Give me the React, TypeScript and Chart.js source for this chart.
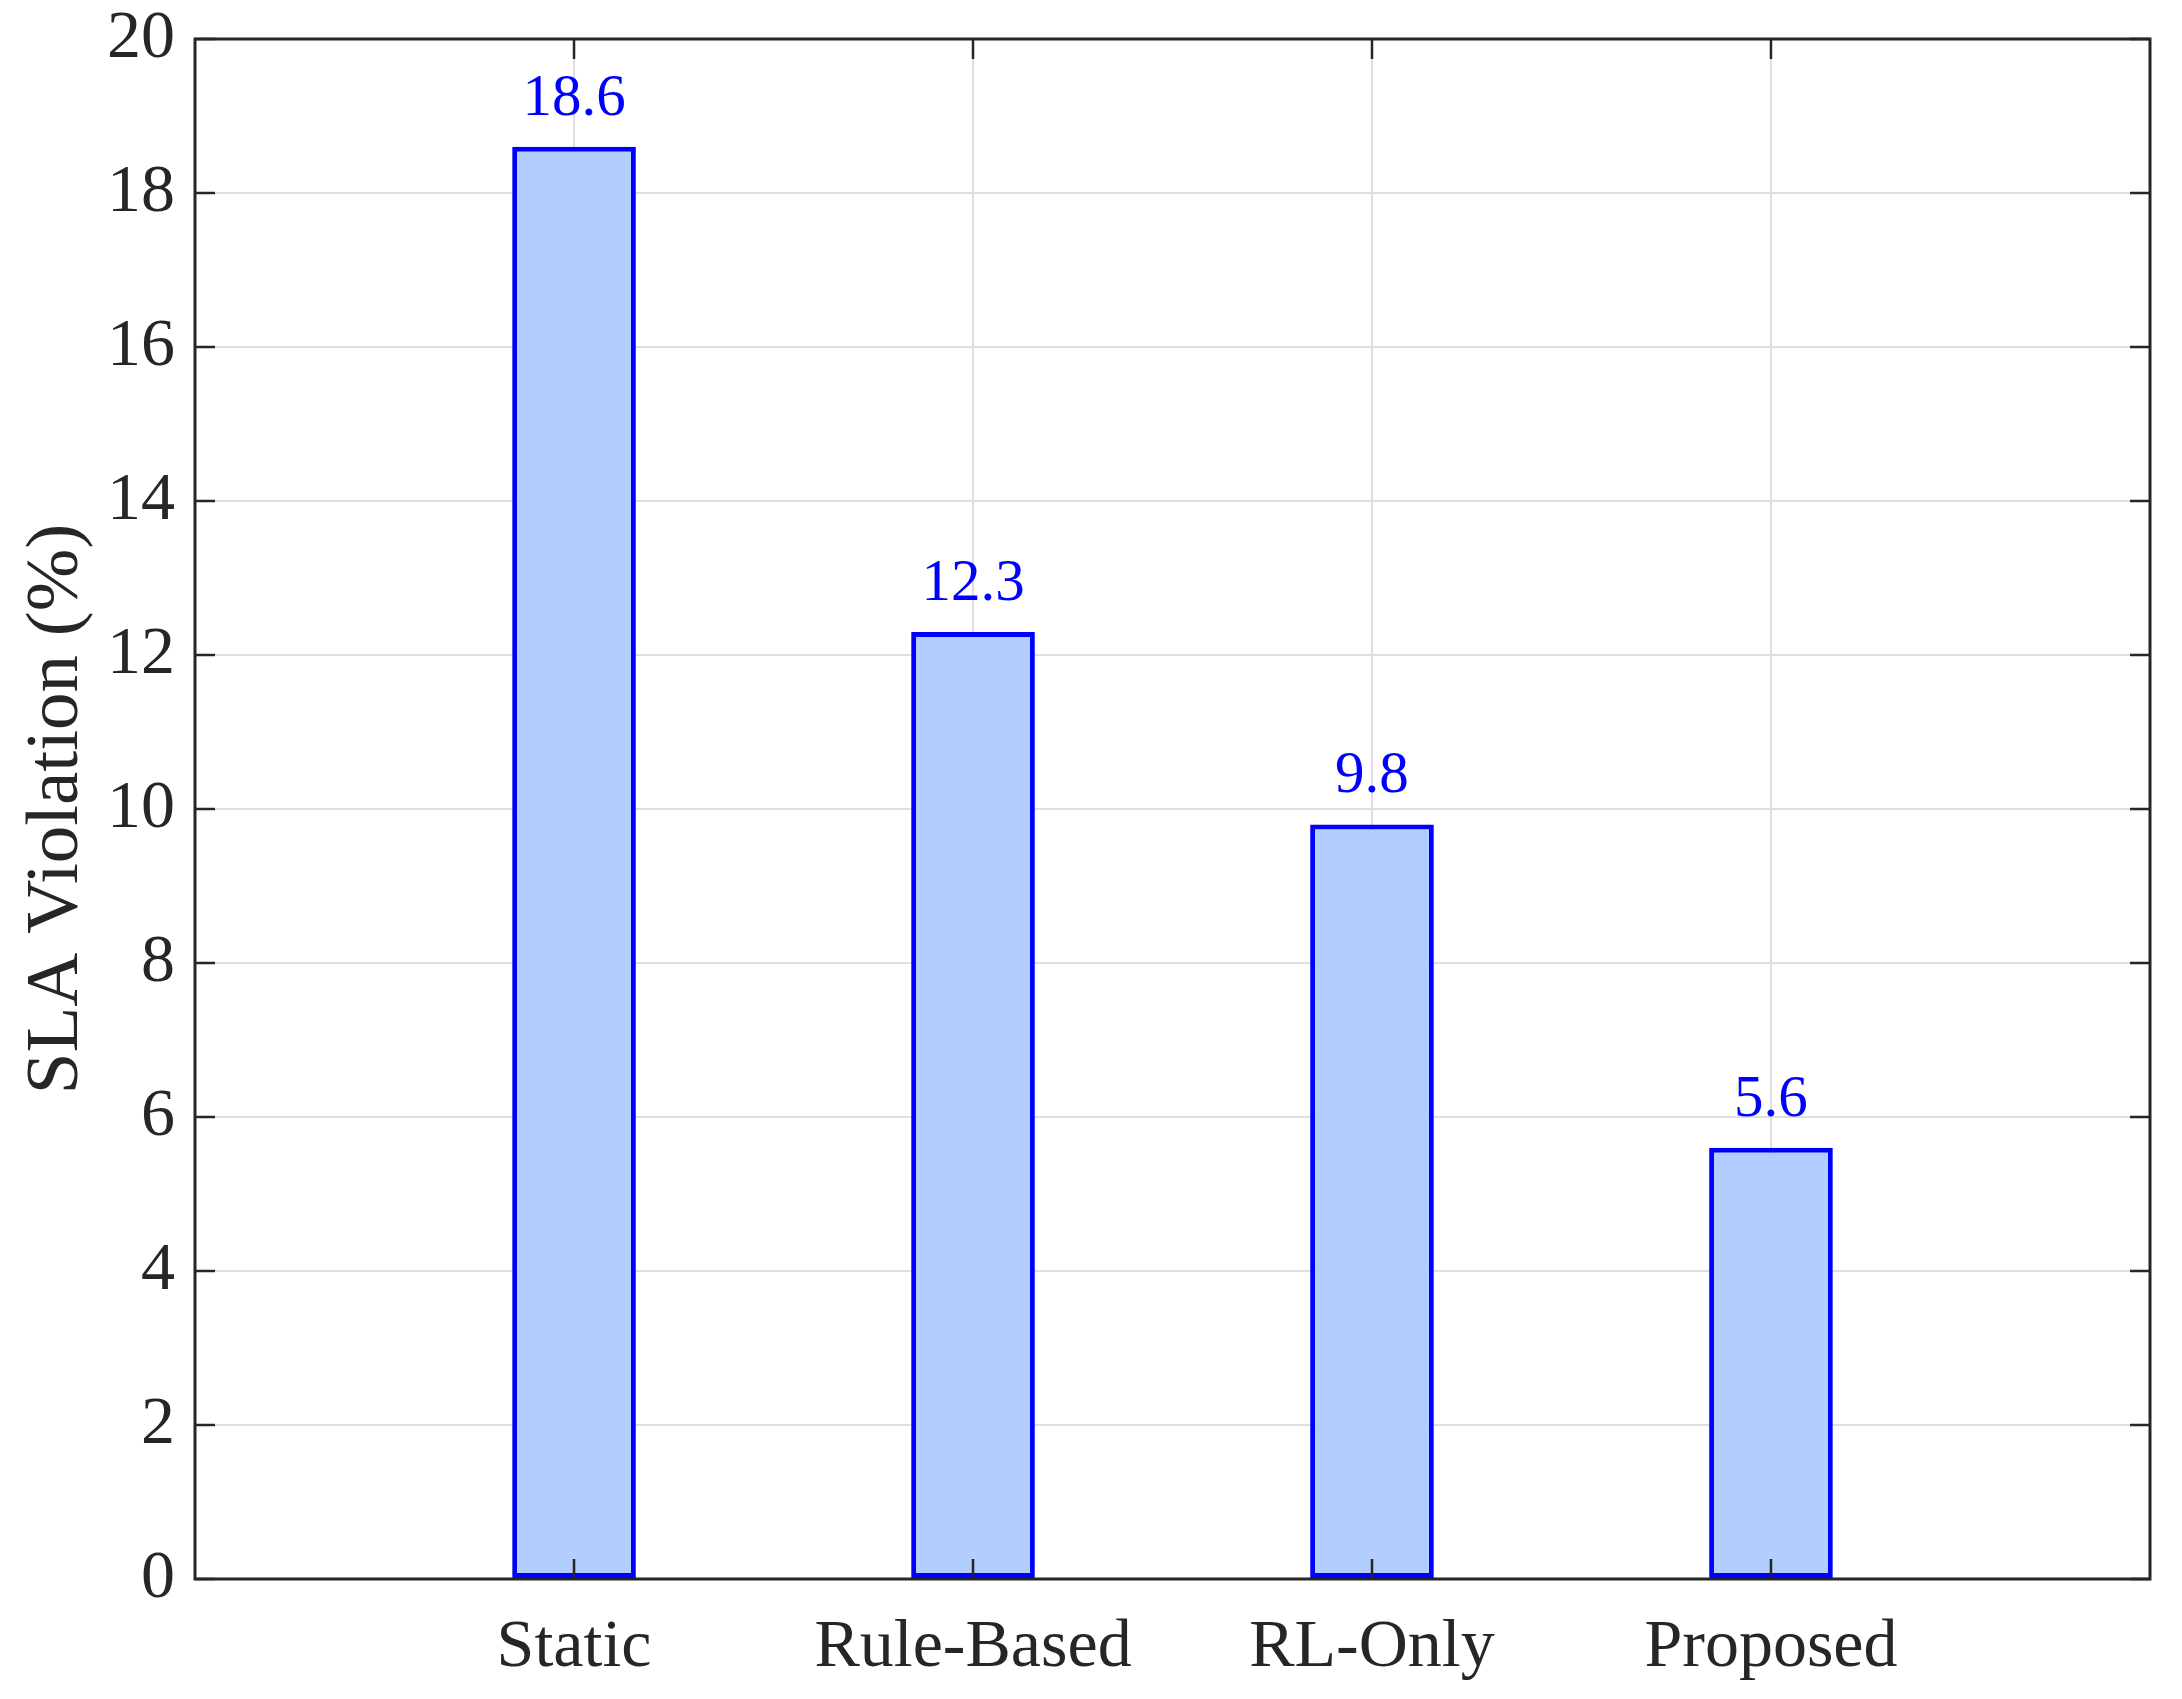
import React, { useEffect, useRef } from 'react';
import { Chart, registerables } from 'chart.js';

Chart.register(...registerables);

const categories = ['Static', 'Rule-Based', 'RL-Only', 'Proposed'];
const positions = [1, 2, 3, 4];
const slaViolation = [18.6, 12.3, 9.8, 5.6];
const yTickValues = [0, 2, 4, 6, 8, 10, 12, 14, 16, 18, 20];
const yAxisTitle = 'SLA Violation (%)';

const FONT = '"Liberation Serif", "Times New Roman", Times, serif';
const AXIS = '#262626';
const GRID = '#dfdfdf';
const BAR_FILL = 'rgb(179, 205, 255)';
const BAR_EDGE = '#0000ff';

export default function App() {
  const ref = useRef<HTMLCanvasElement | null>(null);

  useEffect(() => {
    const canvas = ref.current;
    if (!canvas) return;

    const boxPlugin = {
      id: 'matlabBox',
      beforeDatasetsDraw(chart: any) {
        const { ctx, chartArea: a } = chart;
        ctx.save();
        ctx.strokeStyle = AXIS;
        ctx.lineWidth = 3;
        ctx.strokeRect(a.left, a.top, a.right - a.left, a.bottom - a.top);
        ctx.restore();
      },
      afterDatasetsDraw(chart: any) {
        const { ctx, chartArea: a, scales } = chart;
        ctx.save();
        ctx.strokeStyle = AXIS;
        ctx.lineWidth = 2.5;
        const L = 20;
        ctx.beginPath();
        for (const v of yTickValues) {
          const y = scales.y.getPixelForValue(v);
          ctx.moveTo(a.left, y);
          ctx.lineTo(a.left + L, y);
          ctx.moveTo(a.right, y);
          ctx.lineTo(a.right - L, y);
        }
        for (const v of positions) {
          const x = scales.x.getPixelForValue(v);
          ctx.moveTo(x, a.bottom);
          ctx.lineTo(x, a.bottom - L);
          ctx.moveTo(x, a.top);
          ctx.lineTo(x, a.top + L);
        }
        ctx.stroke();

        ctx.fillStyle = BAR_EDGE;
        ctx.font = `59px ${FONT}`;
        ctx.textAlign = 'center';
        ctx.textBaseline = 'alphabetic';
        const meta = chart.getDatasetMeta(0);
        meta.data.forEach((el: any, i: number) => {
          ctx.fillText(slaViolation[i].toFixed(1), el.x, el.y - 32);
        });
        ctx.restore();
      },
    };

    const chart = new Chart(canvas, {
      type: 'bar',
      data: {
        datasets: [
          {
            data: positions.map((p, i) => ({ x: p, y: slaViolation[i] })),
            backgroundColor: BAR_FILL,
            borderColor: BAR_EDGE,
            borderWidth: 5,
            borderSkipped: false,
            barPercentage: 0.31,
            categoryPercentage: 1,
          },
        ],
      },
      options: {
        animation: false,
        responsive: false,
        devicePixelRatio: 1,
        layout: { padding: { top: 39, right: 32, left: 0, bottom: 0 } },
        plugins: {
          legend: { display: false },
          tooltip: { enabled: false },
        },
        scales: {
          x: {
            type: 'linear',
            min: 0.05,
            max: 4.95,
            offset: false,
            afterBuildTicks: (axis: any) => {
              axis.ticks = positions.map((v) => ({ value: v }));
            },
            afterFit: (scale: any) => {
              scale.height = 120;
              scale.paddingLeft = 0;
              scale.paddingRight = 0;
            },
            ticks: {
              autoSkip: false,
              maxRotation: 0,
              padding: 28,
              color: AXIS,
              font: { family: FONT, size: 68 },
              callback: (value: any) => {
                const i = positions.indexOf(Number(value));
                return i >= 0 ? categories[i] : '';
              },
            },
            grid: { color: GRID, lineWidth: 2, drawTicks: false, offset: false },
            border: { display: false },
          },
          y: {
            type: 'linear',
            min: 0,
            max: 20,
            afterBuildTicks: (axis: any) => {
              axis.ticks = yTickValues.map((v) => ({ value: v }));
            },
            afterFit: (scale: any) => {
              scale.width = 195;
              scale.paddingTop = 0;
              scale.paddingBottom = 0;
            },
            ticks: {
              padding: 20,
              color: AXIS,
              font: { family: FONT, size: 68 },
            },
            grid: { color: GRID, lineWidth: 2, drawTicks: false },
            border: { display: false },
            title: {
              display: true,
              text: yAxisTitle,
              color: AXIS,
              font: { family: FONT, size: 75 },
              padding: { top: 12, bottom: 0 },
            },
          },
        },
      },
      plugins: [boxPlugin],
    } as any);

    return () => chart.destroy();
  }, []);

  return (
    <div style={{ position: 'absolute', left: 0, top: 0, width: 2182, height: 1699, background: '#fff' }}>
      <canvas ref={ref} width={2182} height={1699} style={{ display: 'block', width: 2182, height: 1699 }} />
    </div>
  );
}
